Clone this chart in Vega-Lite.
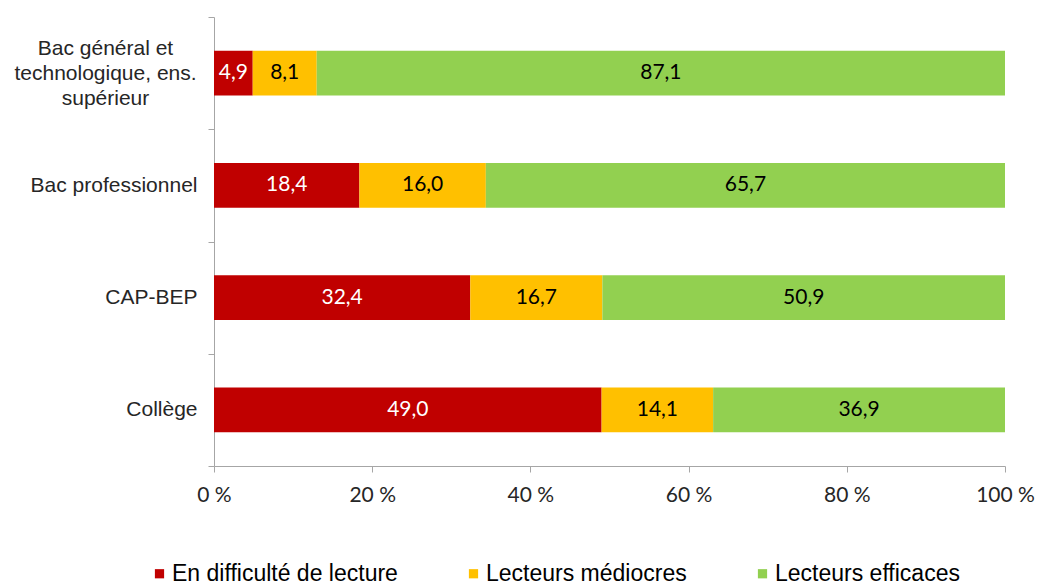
{
  "$schema": "https://vega.github.io/schema/vega-lite/v6.json",
  "width": 791,
  "height": 449,
  "autosize": {"type": "none"},
  "padding": {"left": 214, "top": 17, "right": 36, "bottom": 119},
  "background": "white",
  "config": {
    "view": {"stroke": null},
    "locale": {"number": {"decimal": ",", "thousands": " ", "grouping": [3], "currency": ["", " €"]}}
  },
  "data": {
    "values": [
      {"cat": "Bac général et technologique, ens. supérieur", "serie": "En difficulté de lecture", "value": 4.9, "o": 1},
      {"cat": "Bac général et technologique, ens. supérieur", "serie": "Lecteurs médiocres", "value": 8.1, "o": 2},
      {"cat": "Bac général et technologique, ens. supérieur", "serie": "Lecteurs efficaces", "value": 87.1, "o": 3},
      {"cat": "Bac professionnel", "serie": "En difficulté de lecture", "value": 18.4, "o": 1},
      {"cat": "Bac professionnel", "serie": "Lecteurs médiocres", "value": 16.0, "o": 2},
      {"cat": "Bac professionnel", "serie": "Lecteurs efficaces", "value": 65.7, "o": 3},
      {"cat": "CAP-BEP", "serie": "En difficulté de lecture", "value": 32.4, "o": 1},
      {"cat": "CAP-BEP", "serie": "Lecteurs médiocres", "value": 16.7, "o": 2},
      {"cat": "CAP-BEP", "serie": "Lecteurs efficaces", "value": 50.9, "o": 3},
      {"cat": "Collège", "serie": "En difficulté de lecture", "value": 49.0, "o": 1},
      {"cat": "Collège", "serie": "Lecteurs médiocres", "value": 14.1, "o": 2},
      {"cat": "Collège", "serie": "Lecteurs efficaces", "value": 36.9, "o": 3}
    ]
  },
  "transform": [
    {"stack": "value", "groupby": ["cat"], "sort": [{"field": "o"}], "as": ["v0", "v1"], "offset": "normalize"},
    {"calculate": "(datum.v0 + datum.v1) / 2", "as": "mid"}
  ],
  "encoding": {
    "y": {
      "field": "cat",
      "type": "nominal",
      "sort": ["Bac général et technologique, ens. supérieur", "Bac professionnel", "CAP-BEP", "Collège"],
      "scale": {"paddingInner": 0, "paddingOuter": 0},
      "axis": {
        "title": null,
        "domainColor": "#A6A6A6",
        "tickColor": "#A6A6A6",
        "tickSize": 6,
        "tickBand": "extent",
        "labelFont": "Liberation Sans",
        "labelFontSize": 21,
        "labelColor": "#262626",
        "labelLineHeight": 25,
        "labelLimit": 300,
        "labelAlign": {"condition": {"test": "datum.value == 'Bac général et technologique, ens. supérieur'", "value": "center"}, "value": "right"},
        "labelPadding": {"condition": {"test": "datum.value == 'Bac général et technologique, ens. supérieur'", "value": 103}, "value": 11},
        "labelOffset": {"condition": {"test": "datum.value == 'Bac général et technologique, ens. supérieur'", "value": -25}, "value": 0},
        "labelExpr": "datum.value == 'Bac général et technologique, ens. supérieur' ? ['Bac général et', 'technologique, ens.', 'supérieur'] : datum.label"
      }
    }
  },
  "layer": [
    {
      "mark": {"type": "bar", "height": {"band": 0.4}},
      "encoding": {
        "x": {
          "field": "v0",
          "type": "quantitative",
          "scale": {"domain": [0, 1], "nice": false},
          "axis": {
            "title": null,
            "values": [0, 0.2, 0.4, 0.6, 0.8, 1],
            "grid": false,
            "labelFlush": false,
            "labelBound": false,
            "domainColor": "#A6A6A6",
            "tickColor": "#A6A6A6",
            "tickSize": 6,
            "labelPadding": 12,
            "labelFont": "Lato",
            "labelFontSize": 21,
            "labelColor": "#262626",
            "labelExpr": "format(datum.value * 100, 'd') + ' %'"
          }
        },
        "x2": {"field": "v1"},
        "color": {
          "field": "serie",
          "type": "nominal",
          "sort": ["En difficulté de lecture", "Lecteurs médiocres", "Lecteurs efficaces"],
          "scale": {"domain": ["En difficulté de lecture", "Lecteurs médiocres", "Lecteurs efficaces"], "range": ["#C00000", "#FFC000", "#92D050"]},
          "legend": {
            "title": null,
            "orient": "none",
            "direction": "horizontal",
            "legendX": -66,
            "legendY": 545,
            "symbolType": "square",
            "symbolSize": 85,
            "symbolStrokeWidth": 0,
            "symbolOffset": 0,
            "labelOffset": 1,
            "columnPadding": 64,
            "labelFont": "Liberation Sans",
            "labelFontSize": 23,
            "labelColor": "#000000",
            "labelLimit": 400
          }
        }
      }
    },
    {
      "mark": {"type": "text", "font": "Lato", "fontSize": 21, "baseline": "middle", "align": "center"},
      "encoding": {
        "x": {"field": "mid", "type": "quantitative"},
        "text": {"field": "value", "type": "quantitative", "format": ".1f"},
        "color": {"condition": {"test": "datum.serie == 'En difficulté de lecture'", "value": "#FFFFFF"}, "value": "#000000"}
      }
    }
  ]
}
